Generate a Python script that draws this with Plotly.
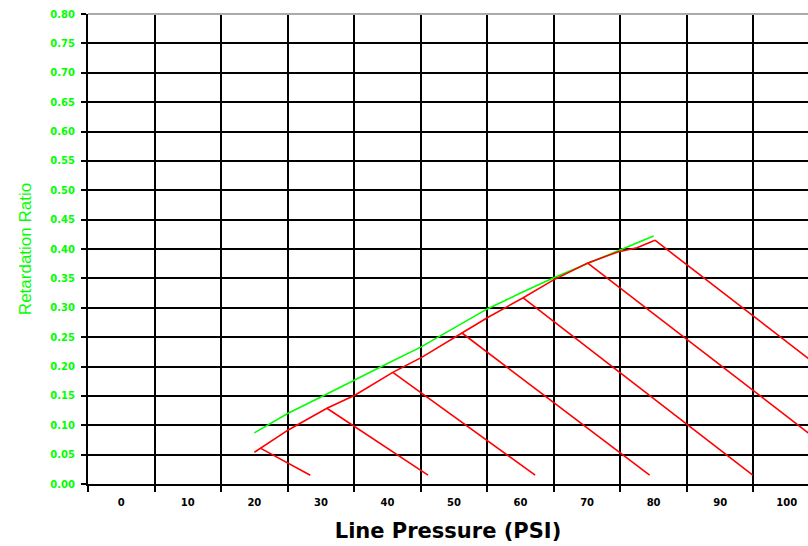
import plotly.graph_objects as go

# ---- data ----
psi_labels = [0, 10, 20, 30, 40, 50, 60, 70, 80, 90, 100]
ratio_ticks = [0.00, 0.05, 0.10, 0.15, 0.20, 0.25, 0.30, 0.35, 0.40,
               0.45, 0.50, 0.55, 0.60, 0.65, 0.70, 0.75, 0.80]

# green: maximum retardation ratio vs line pressure
max_psi = [20, 25, 30, 35, 40, 45, 50, 55, 60, 65, 70, 75, 80]
max_ratio = [0.087, 0.120, 0.148, 0.177, 0.205, 0.233, 0.265, 0.298,
             0.325, 0.351, 0.375, 0.399, 0.422]

# red: envelope of retardation ratio
env_psi = [20, 25.1, 30.9, 35.1, 40.8, 45.2, 51.2, 55, 60.4, 64.9, 70.1,
           74.6, 77.5, 80.2]
env_ratio = [0.054, 0.092, 0.129, 0.151, 0.190, 0.216, 0.257, 0.283,
             0.317, 0.347, 0.376, 0.395, 0.402, 0.415]

# red: decay lines from the envelope
decay_start_psi = [20.9, 30.9, 40.8, 51.2, 60.4, 70.1, 80.2]
decay_start_ratio = [0.061, 0.129, 0.190, 0.257, 0.317, 0.376, 0.415]
decay_end_psi = [28.4, 46.1, 62.2, 79.4, 94.9, 111.5, 126.0]
decay_end_ratio = [0.015, 0.015, 0.015, 0.015, 0.015, 0.015, 0.015]

RED = "#ff0000"
GREEN = "#00ff00"

fig = go.Figure()

fig.add_trace(go.Scatter(x=max_psi, y=max_ratio, mode="lines",
                         line=dict(color=GREEN, width=1.6), showlegend=False,
                         hoverinfo="skip"))
fig.add_trace(go.Scatter(x=env_psi, y=env_ratio, mode="lines",
                         line=dict(color=RED, width=1.6), showlegend=False,
                         hoverinfo="skip"))
for xs, ys, xe, ye in zip(decay_start_psi, decay_start_ratio,
                          decay_end_psi, decay_end_ratio):
    fig.add_trace(go.Scatter(x=[xs, xe], y=[ys, ye], mode="lines",
                             line=dict(color=RED, width=1.6),
                             showlegend=False, hoverinfo="skip"))

grid_vals = [v - 5 for v in psi_labels]

fig.update_layout(
    width=808, height=546,
    margin=dict(l=88, r=0, t=14, b=62),
    paper_bgcolor="white", plot_bgcolor="white",
    showlegend=False,
    xaxis=dict(
        range=[-5, 103.2], automargin=False,
        tickmode="array", tickvals=psi_labels,
        ticktext=[str(v) for v in psi_labels],
        showgrid=False, zeroline=False, ticks="",
        ticklabelstandoff=8,
        showline=True, linecolor="black", linewidth=2,
        tickfont=dict(family="DejaVu Sans", size=10, color="black",
                      weight="bold"),
        minor=dict(tickmode="array", tickvals=grid_vals, showgrid=True,
                   gridcolor="black", gridwidth=2, ticks="outside",
                   ticklen=6, tickwidth=2, tickcolor="black"),
        title=dict(text="Line Pressure (PSI)", standoff=16,
                   font=dict(family="DejaVu Sans", size=21,
                             color="black", weight="bold")),
    ),
    yaxis=dict(
        range=[0, 0.8], automargin=False,
        tickmode="array", tickvals=ratio_ticks, tickformat=".2f",
        showgrid=True, gridcolor="black", gridwidth=2, zeroline=False,
        ticks="outside", ticklen=5, tickwidth=2, tickcolor="black",
        ticklabelstandoff=4,
        showline=True, linecolor="black", linewidth=2,
        tickfont=dict(family="DejaVu Sans", size=10, color=GREEN,
                      weight="bold"),
        title=dict(text="Retardation Ratio", standoff=14,
                   font=dict(family="Liberation Sans", size=17,
                             color=GREEN)),
    ),
    shapes=[dict(type="line", xref="paper", yref="paper", x0=0, x1=1,
                 y0=1, y1=1, line=dict(color="#aaaaaa", width=2),
                 layer="above")],
)

fig.write_html(
    "out.html",
    config={"displayModeBar": False},
    post_script="document.body.style.margin='0';"
                "document.body.style.overflow='hidden';",
)
